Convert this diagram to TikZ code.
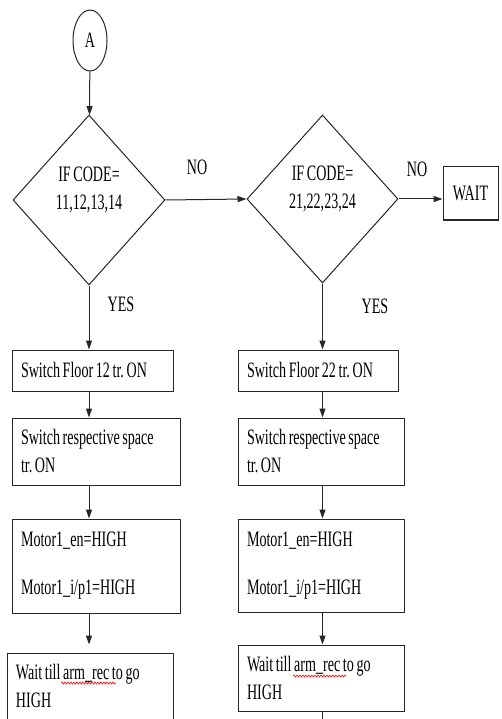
\documentclass[tikz,border=0pt]{standalone}
\usepackage{fontspec}
\setmainfont[FakeStretch=0.64,WordSpace=0.75]{Liberation Serif}
\usepackage{tikz}
\tikzset{
    decision/.style={diamond,draw,inner sep=0pt,align=center,text depth=23pt},
    process/.style={rectangle,draw,align=left,inner xsep=9pt,inner ysep=0pt,
        execute at begin node={\spaceskip=0pt\xspaceskip=0pt}},
    connector/.style={ellipse,draw,inner sep=0pt,minimum width=34pt,minimum height=61pt},
    edge/.style={->,>={Triangle[length=9pt,width=6pt]}}
}
\usetikzlibrary{arrows.meta,shapes.geometric,decorations.pathmorphing}
\frenchspacing

\begin{document}
\begin{tikzpicture}[x=1pt,y=-1pt,line width=1pt,draw=black!85,
    font=\fontsize{22}{28}\selectfont]
\useasboundingbox (0,0) rectangle (501,719);

\node[connector] (A) at (90, 40.5) {A};

\node[decision,minimum width=152pt,minimum height=170pt] (dec1) at (89, 200) {IF CODE=\\11,12,13,14};
\node[decision,minimum width=151pt,minimum height=168pt] (dec2) at (322.5, 199) {IF CODE=\\21,22,23,24};
\node[rectangle,draw,inner sep=0pt,minimum width=55pt,minimum height=53pt] (wait) at (470.5, 193.5) {WAIT};

\node (no1) at (197, 167) {NO};
\node (no2) at (417, 169) {NO};
\node (yes1) at (121, 304) {YES};
\node (yes2) at (375, 306) {YES};

% left column
\node[process,text width=143pt,minimum height=41pt] (b1) at (92.5, 370.5) {\mbox{Switch Floor 12 tr. ON}};
\node[process,text width=150pt,minimum height=67pt] (b2) at (96, 451.5) {\mbox{Switch respective space}\\\mbox{tr. ON}};
\node[process,text width=150pt,minimum height=94pt] (b3) at (96, 566) {\mbox{Motor1\_en=HIGH}\\[20pt]\mbox{Motor1\_i/p1=HIGH}};
\node[process,text width=148pt,minimum height=66pt] (b4) at (90, 686) {\mbox{Wait till arm\_rec to go}\\\mbox{HIGH}};

% right column
\node[process,text width=142pt,minimum height=41pt] (r1) at (318, 370.5) {\mbox{Switch Floor 22 tr. ON}};
\node[process,text width=148pt,minimum height=67pt] (r2) at (321, 451.5) {\mbox{Switch respective space}\\\mbox{tr. ON}};
\node[process,text width=148pt,minimum height=93pt] (r3) at (321, 565.5) {\mbox{Motor1\_en=HIGH}\\[20pt]\mbox{Motor1\_i/p1=HIGH}};
\node[process,text width=148pt,minimum height=66pt] (r4) at (321, 678) {\mbox{Wait till arm\_rec to go}\\\mbox{HIGH}};
\coordinate (out) at (322.5, 730);

\draw[edge] (A) to (dec1);
\draw[edge] (dec1.east) to (dec2.west);
\draw[edge] (dec2.east) to (dec2.east -| wait.west);
\draw[edge] (dec1.south) to (dec1.south |- b1.north);
\draw[edge] (b1.south -| dec1) to (b2.north -| dec1);
\draw[edge] (b2.south -| dec1) to (b3.north -| dec1);
\draw[edge,shorten >=8pt] (b3.south -| dec1) to (b4.north -| dec1);
\draw[edge] (dec2.south) to (dec2.south |- r1.north);
\draw[edge] (r1.south -| dec2) to (r2.north -| dec2);
\draw[edge] (r2.south -| dec2) to (r3.north -| dec2);
\draw[edge] (r3.south -| dec2) to (r4.north -| dec2);
\draw (r4.south -| dec2) to (out);

% spell-check marks
\draw[red,line width=0.6pt,decorate,decoration={snake,amplitude=1pt,segment length=3pt}] (61,683) -- (116,683);
\draw[red,line width=0.6pt,decorate,decoration={snake,amplitude=1pt,segment length=3pt}] (293,676) -- (346,676);
\end{tikzpicture}
\end{document}
